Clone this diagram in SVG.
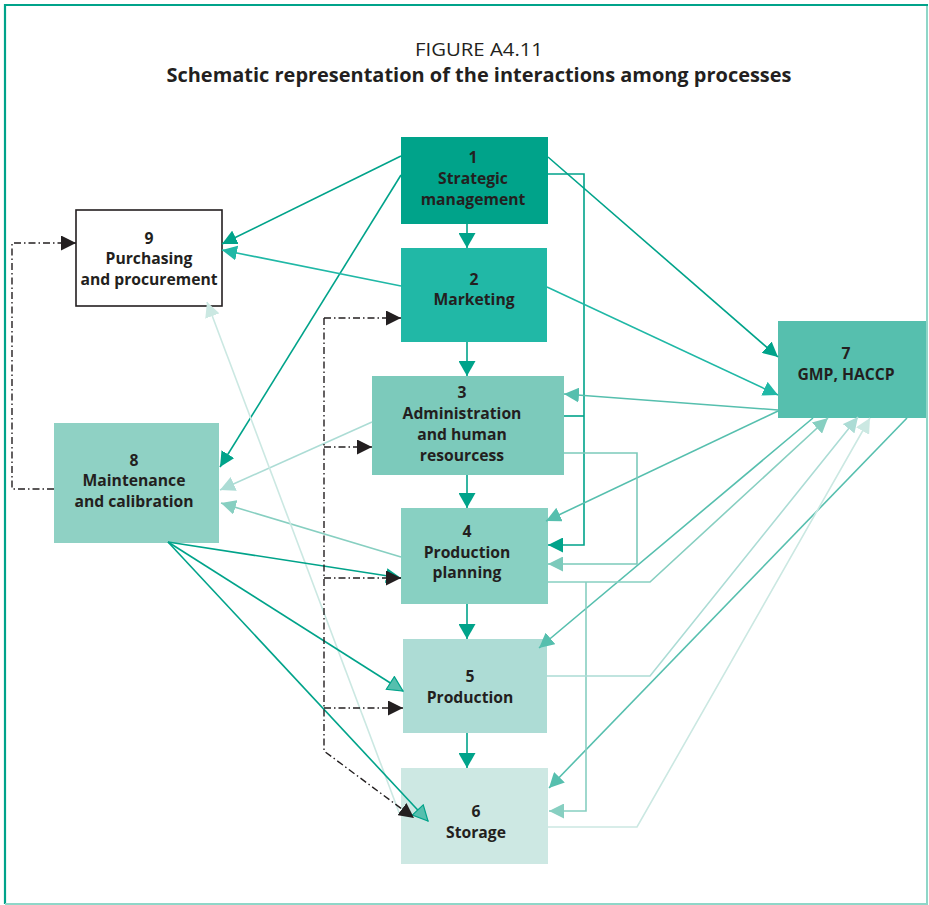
<svg xmlns="http://www.w3.org/2000/svg" width="929" height="905" viewBox="0 0 929 905">
  <style>
    .title { font-family: "Open Sans", "Liberation Sans", sans-serif; fill: #231f20; text-anchor: middle; }
    .lbl { font-family: "Open Sans", "Liberation Sans", sans-serif; font-weight: 700; font-size: 15.7px; fill: #231f20; text-anchor: middle; }
    .c { fill: none; stroke-width: 1.6; }
    .k1 { stroke: #00a38a; }
    .k2 { stroke: #20b8a6; }
    .k3 { stroke: #7ccabb; }
    .k4 { stroke: #87cfc1; }
    .k5 { stroke: #acdcd5; }
    .k6 { stroke: #cbe8e2; }
    .k7 { stroke: #56bfae; }
    .dd { fill: none; stroke: #231f20; stroke-width: 1.4; stroke-dasharray: 7 3 1.5 3; }
  </style>
  <defs>
    <marker id="a1" viewBox="0 0 15 15" refX="15" refY="7.5" markerWidth="15" markerHeight="15" markerUnits="userSpaceOnUse" orient="auto"><path d="M0,0 L15,7.5 L0,15 z" fill="#00a38a"/></marker>
    <marker id="aBig" viewBox="0 0 15 17" refX="15" refY="8.5" markerWidth="15" markerHeight="17" markerUnits="userSpaceOnUse" orient="auto"><path d="M0,0 L15,8.5 L0,17 z" fill="#00a38a"/></marker>
    <marker id="a2" viewBox="0 0 15 15" refX="15" refY="7.5" markerWidth="15" markerHeight="15" markerUnits="userSpaceOnUse" orient="auto"><path d="M0,0 L15,7.5 L0,15 z" fill="#20b8a6"/></marker>
    <marker id="a3" viewBox="0 0 15 15" refX="15" refY="7.5" markerWidth="15" markerHeight="15" markerUnits="userSpaceOnUse" orient="auto"><path d="M0,0 L15,7.5 L0,15 z" fill="#7ccabb"/></marker>
    <marker id="a4" viewBox="0 0 15 15" refX="15" refY="7.5" markerWidth="15" markerHeight="15" markerUnits="userSpaceOnUse" orient="auto"><path d="M0,0 L15,7.5 L0,15 z" fill="#87cfc1"/></marker>
    <marker id="a5" viewBox="0 0 15 15" refX="15" refY="7.5" markerWidth="15" markerHeight="15" markerUnits="userSpaceOnUse" orient="auto"><path d="M0,0 L15,7.5 L0,15 z" fill="#acdcd5"/></marker>
    <marker id="a6" viewBox="0 0 15 15" refX="15" refY="7.5" markerWidth="15" markerHeight="15" markerUnits="userSpaceOnUse" orient="auto"><path d="M0,0 L15,7.5 L0,15 z" fill="#cbe8e2"/></marker>
    <marker id="a7" viewBox="0 0 15 15" refX="15" refY="7.5" markerWidth="15" markerHeight="15" markerUnits="userSpaceOnUse" orient="auto"><path d="M0,0 L15,7.5 L0,15 z" fill="#56bfae"/></marker>
    <marker id="aOut" viewBox="-1 -1 17 17" refX="15" refY="7.5" markerWidth="17" markerHeight="17" markerUnits="userSpaceOnUse" orient="auto"><path d="M0,0 L15,7.5 L0,15 z" fill="#56bfae" stroke="#00a38a" stroke-width="1.2"/></marker>
    <marker id="aK" viewBox="0 0 15 15" refX="15" refY="7.5" markerWidth="15" markerHeight="15" markerUnits="userSpaceOnUse" orient="auto"><path d="M0,0 L15,7.5 L0,15 z" fill="#231f20"/></marker>
  </defs>

  <!-- frame -->
  <rect x="0" y="0" width="929" height="905" fill="#ffffff"/>
  <path d="M4,5 H928" stroke="#00a38a" stroke-width="2.2" fill="none"/>
  <path d="M5,4 V904" stroke="#00a38a" stroke-width="2.2" fill="none"/>
  <path d="M927,6 V904 M5,904 H928" stroke="#8fd6c8" stroke-width="2" fill="none"/>

  <!-- heading -->
  <text class="title" x="479" y="56" font-size="18.5" textLength="128" lengthAdjust="spacingAndGlyphs">FIGURE A4.11</text>
  <text class="title" x="479" y="82" font-size="19.5" font-weight="700" textLength="625" lengthAdjust="spacingAndGlyphs">Schematic representation of the interactions among processes</text>

  <!-- nodes -->
  <g id="node1">
    <rect x="401" y="137" width="147" height="87" fill="#00a38a"/>
    <text class="lbl" x="473" y="163">1</text>
    <text class="lbl" x="473" y="184">Strategic</text>
    <text class="lbl" x="473" y="205">management</text>
  </g>
  <g id="node2">
    <rect x="401" y="248" width="146" height="94" fill="#21b8a6"/>
    <text class="lbl" x="474" y="285">2</text>
    <text class="lbl" x="474" y="305">Marketing</text>
  </g>
  <g id="node3">
    <rect x="372" y="376" width="192" height="99" fill="#7ccabb"/>
    <text class="lbl" x="462" y="398">3</text>
    <text class="lbl" x="462" y="419">Administration</text>
    <text class="lbl" x="462" y="440">and human</text>
    <text class="lbl" x="462" y="461">resourcess</text>
  </g>
  <g id="node4">
    <rect x="401" y="508" width="147" height="96" fill="#88d0c2"/>
    <text class="lbl" x="467" y="537">4</text>
    <text class="lbl" x="467" y="558">Production</text>
    <text class="lbl" x="467" y="578">planning</text>
  </g>
  <g id="node5">
    <rect x="403" y="639" width="144" height="94" fill="#addcd5"/>
    <text class="lbl" x="470" y="682">5</text>
    <text class="lbl" x="470" y="703">Production</text>
  </g>
  <g id="node6">
    <rect x="401" y="768" width="147" height="96" fill="#cde8e3"/>
    <text class="lbl" x="476" y="817">6</text>
    <text class="lbl" x="476" y="838">Storage</text>
  </g>
  <g id="node7">
    <rect x="778" y="321" width="148" height="97" fill="#56bfae"/>
    <text class="lbl" x="846" y="359">7</text>
    <text class="lbl" x="846" y="380">GMP, HACCP</text>
  </g>
  <g id="node8">
    <rect x="54" y="423" width="165" height="120" fill="#8fd1c4"/>
    <text class="lbl" x="134" y="466">8</text>
    <text class="lbl" x="134" y="486">Maintenance</text>
    <text class="lbl" x="134" y="507">and calibration</text>
  </g>
  <g id="node9">
    <rect x="76" y="210" width="146" height="96" fill="#ffffff" stroke="#231f20" stroke-width="1.6"/>
    <text class="lbl" x="149" y="244">9</text>
    <text class="lbl" x="149" y="264">Purchasing</text>
    <text class="lbl" x="149" y="285">and procurement</text>
  </g>

  <!-- connectors (drawn over the boxes so heads that reach inside stay visible) -->
  <g id="connectors">
    <!-- main chain 1 to 6 -->
    <path class="c k1" d="M467,224 V248" marker-end="url(#aBig)"/>
    <path class="c k1" d="M467,342 V376" marker-end="url(#aBig)"/>
    <path class="c k1" d="M467,475 V508" marker-end="url(#aBig)"/>
    <path class="c k1" d="M467,604 V639" marker-end="url(#aBig)"/>
    <path class="c k1" d="M467,733 V768" marker-end="url(#aBig)"/>

    <!-- from 1 -->
    <path class="c k1" d="M401,156 L222,244" marker-end="url(#a1)"/>
    <path class="c k1" d="M401,175 L220,467" marker-end="url(#a1)"/>
    <path class="c k1" d="M548,157 L778,357" marker-end="url(#a1)"/>
    <path class="c k1" d="M548,174 H584 V545 H548" marker-end="url(#a1)"/>
    <path class="c k1" d="M564,416 H584"/>

    <!-- from 2 -->
    <path class="c k2" d="M401,286 L222,250" marker-end="url(#a2)"/>
    <path class="c k2" d="M547,287 L778,395" marker-end="url(#a2)"/>

    <!-- from 7 -->
    <path class="c k7" d="M778,410 L564,394" marker-end="url(#a7)"/>
    <path class="c k7" d="M778,411 L546,521" marker-end="url(#a7)"/>
    <path class="c k7" d="M813,418 L539,648" marker-end="url(#a7)"/>
    <path class="c k7" d="M907,418 L549,788" marker-end="url(#a7)"/>

    <!-- from 3 -->
    <path class="c k3" d="M564,453 H637 V564 H548" marker-end="url(#a3)"/>
    <path class="c k5" d="M372,422 L220,490" marker-end="url(#a5)"/>

    <!-- from 4 -->
    <path class="c k4" d="M548,582 H650 L828,418" marker-end="url(#a4)"/>
    <path class="c k4" d="M586,582 V811 H549" marker-end="url(#a4)"/>
    <path class="c k4" d="M401,557 L221,503" marker-end="url(#a4)"/>

    <!-- from 5 and 6 -->
    <path class="c k5" d="M547,676 H650 L858,417" marker-end="url(#a5)"/>
    <path class="c k6" d="M548,827 H637 L870,418" marker-end="url(#a6)"/>
    <path class="c k6" d="M400,815 L207,302" marker-end="url(#a6)"/>

    <!-- from 8 -->
    <path class="c k1" d="M168,542 L401,578" marker-end="url(#a1)"/>
    <path class="c k1" d="M168,542 L403,691" marker-end="url(#aOut)"/>
    <path class="c k1" d="M168,542 L428,821" marker-end="url(#aOut)"/>

    <!-- dash-dot links -->
    <path class="dd" d="M54,489 H12 V243 H76" marker-end="url(#aK)"/>
    <path class="dd" d="M324,318 H401" marker-end="url(#aK)"/>
    <path class="dd" d="M324,318 V751 L414,818" marker-end="url(#aK)"/>
    <path class="dd" d="M324,447 H372" marker-end="url(#aK)"/>
    <path class="dd" d="M324,578 H401" marker-end="url(#aK)"/>
    <path class="dd" d="M324,708 H403" marker-end="url(#aK)"/>
  </g>
</svg>
